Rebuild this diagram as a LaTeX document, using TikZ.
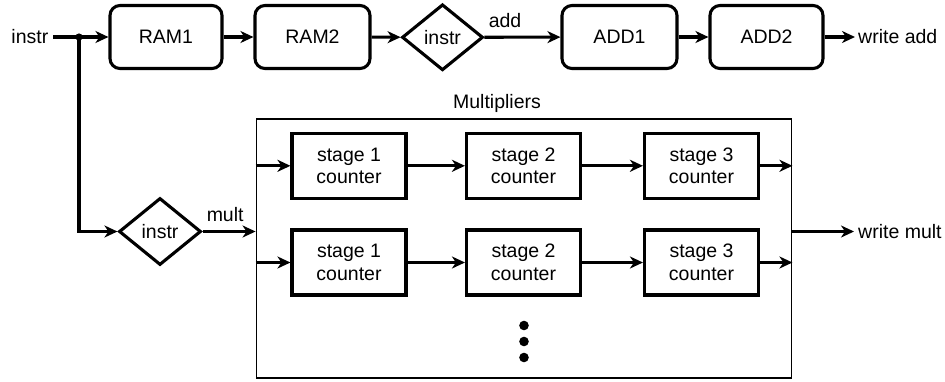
\documentclass[tikz,border=0pt]{standalone}
\usepackage{fontspec}
\setmainfont{Liberation Sans}
\usetikzlibrary{shapes.geometric,arrows.meta}
\begin{document}
\begin{tikzpicture}[x=1pt,y=-1pt,
  every node/.style={font=\fontsize{19.5}{22.5}\selectfont},
  rbox/.style={draw,line width=3.1pt,rounded corners=10pt,minimum height=63,inner sep=0},
  sbox/.style={draw,line width=3.1pt,minimum width=114,minimum height=65,inner sep=0,align=center},
  dia/.style={draw,line width=3.1pt,diamond,inner sep=0,minimum width=81,minimum height=66},
  arr/.style={line width=3.1pt,-{Stealth[length=13pt,width=12pt,inset=4pt]}},
  ln/.style={line width=3.1pt},
  lbl/.style={anchor=base west,inner sep=0}]
\useasboundingbox (0,0) rectangle (945,381);
% top row
\node[anchor=east,inner sep=0] (in) at (48.5,37) {instr};
\coordinate (st) at (53,37);
\coordinate (jn) at (79,37);
\node[rbox,minimum width=112] (ram1) at (166,37) {RAM1};
\node[rbox,minimum width=115] (ram2) at (312.5,37) {RAM2};
\node[dia] (d1) at (442.5,37.3) {instr};
\node[rbox,minimum width=115] (add1) at (619.5,37) {ADD1};
\node[rbox,minimum width=113] (add2) at (766.5,37) {ADD2};
\coordinate (wa) at (855,37);
\node[anchor=west,inner sep=0] (wat) at (858,37) {write add};
\draw[ln] (st) -- (jn);
\draw[arr] (jn) -- (ram1);
\fill (jn) circle (3.6);
\draw[arr] (ram1) -- (ram2);
\draw[arr] (ram2) -- (d1);
\draw[arr] (d1) -- (add1);
\node[lbl] (addl) at ([shift={(4,-10)}]d1.east) {add};
\draw[arr] (add1) -- (add2);
\draw[arr] (add2) -- (wa);
% multipliers container
\node[draw,line width=1.9pt,minimum width=535,minimum height=259,inner sep=0] (mul) at (524,248.5) {};
\node (mlab) at (497,103) {Multipliers};
\node[dia,minimum width=82,minimum height=67] (d2) at (160,231.5) {instr};
\draw[arr] (jn) |- (d2);
\draw[arr] (d2) -- (mul.west |- d2);
\node[lbl] (multl) at ([shift={(4,-10)}]d2.east) {mult};
\node[sbox] (s11) at (349,165.8) {stage 1\\counter};
\node[sbox] (s12) at (523.5,165.8) {stage 2\\counter};
\node[sbox] (s13) at (701.5,165.8) {stage 3\\counter};
\node[sbox] (s21) at (349,262.5) {stage 1\\counter};
\node[sbox] (s22) at (523.5,262.5) {stage 2\\counter};
\node[sbox] (s23) at (701.5,262.5) {stage 3\\counter};
\draw[arr] (mul.west |- s11) -- (s11);
\draw[arr] (s11) -- (s12);
\draw[arr] (s12) -- (s13);
\draw[arr] (s13) -- (mul.east |- s13);
\draw[arr] (mul.west |- s21) -- (s21);
\draw[arr] (s21) -- (s22);
\draw[arr] (s22) -- (s23);
\draw[arr] (s23) -- (mul.east |- s23);
\coordinate (wm) at (854,231.5);
\draw[arr] (mul.east |- d2) -- (wm);
\node[anchor=west,inner sep=0] (wmt) at (858,231.5) {write mult};
\fill (524,325.5) circle (4.8) (524,341.5) circle (4.8) (524,357.5) circle (4.8);
\end{tikzpicture}
\end{document}
